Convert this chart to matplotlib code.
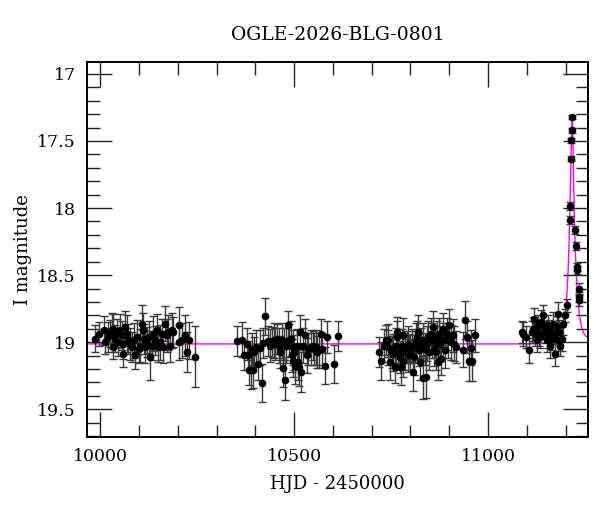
import numpy as np
import matplotlib
matplotlib.use('Agg')
import matplotlib.pyplot as plt
from matplotlib.ticker import MultipleLocator

# season 1
t1 = [9987, 9996, 10009, 10013, 10021, 10026, 10030, 10034, 10034, 10039,
      10043, 10047, 10052, 10056, 10058, 10060, 10064, 10069, 10073, 10077,
      10082, 10086, 10090, 10095, 10099, 10103, 10107, 10110, 10112, 10116,
      10120, 10125, 10129, 10133, 10137, 10142, 10146, 10150, 10155, 10159,
      10163, 10168, 10172, 10176, 10180, 10185, 10189, 10202, 10204, 10211,
      10219, 10223, 10230, 10245]
m1 = [18.975, 18.938, 18.913, 19.000, 18.963, 18.937, 18.913, 18.900, 19.037, 18.975,
      18.937, 19.000, 18.913, 18.950, 19.087, 19.012, 18.888, 18.937, 18.975, 19.012,
      19.037, 18.987, 19.099, 18.963, 19.049, 19.025, 18.863, 18.913, 18.975, 19.037,
      19.000, 18.963, 19.112, 19.025, 18.937, 18.987, 18.913, 19.037, 19.000, 18.937,
      19.037, 18.863, 18.950, 18.925, 19.025, 18.913, 18.925, 19.000, 18.875, 18.987,
      18.950, 19.075, 18.987, 19.107]
e1 = [0.10, 0.09, 0.11, 0.09, 0.11, 0.10, 0.13, 0.11, 0.09, 0.10,
      0.11, 0.10, 0.12, 0.11, 0.10, 0.11, 0.12, 0.14, 0.11, 0.12,
      0.11, 0.13, 0.10, 0.13, 0.11, 0.12, 0.14, 0.13, 0.11, 0.12,
      0.11, 0.12, 0.17, 0.11, 0.13, 0.11, 0.12, 0.11, 0.13, 0.11,
      0.12, 0.13, 0.12, 0.13, 0.12, 0.13, 0.11, 0.13, 0.14, 0.13,
      0.15, 0.15, 0.14, 0.23]

# season 2
t2 = [10354, 10365, 10371, 10378, 10382, 10385, 10388, 10391, 10395, 10397,
      10402, 10406, 10411, 10417, 10419, 10424, 10434, 10438, 10442, 10447,
      10451, 10455, 10460, 10464, 10468, 10471, 10474, 10477, 10479, 10485,
      10488, 10491, 10494, 10497, 10498, 10500, 10503, 10507, 10509, 10514,
      10515, 10518, 10522, 10528, 10533, 10537, 10543, 10548, 10552, 10557,
      10560, 10565, 10570, 10571, 10580, 10584, 10603, 10612]
m2 = [18.993, 18.982, 19.099, 19.012, 19.099, 19.206, 19.211, 19.049, 19.211, 19.075,
      19.037, 19.161, 19.042, 19.306, 19.007, 18.808, 18.993, 19.025, 19.000, 18.987,
      19.012, 18.975, 19.025, 19.075, 18.987, 19.191, 19.012, 19.281, 19.025, 18.875,
      18.987, 18.975, 19.099, 19.037, 19.137, 19.075, 19.174, 19.025, 19.149, 19.187,
      18.925, 19.224, 19.025, 18.950, 19.099, 19.049, 19.037, 19.025, 19.049, 19.037,
      19.075, 19.062, 18.937, 19.049, 19.174, 18.963, 19.161, 18.955]
e2 = [0.11, 0.13, 0.11, 0.12, 0.11, 0.11, 0.14, 0.12, 0.13, 0.11,
      0.13, 0.12, 0.13, 0.14, 0.11, 0.14, 0.11, 0.12, 0.11, 0.13,
      0.12, 0.11, 0.13, 0.12, 0.13, 0.14, 0.12, 0.15, 0.13, 0.11,
      0.12, 0.13, 0.12, 0.13, 0.12, 0.13, 0.14, 0.12, 0.13, 0.14,
      0.13, 0.15, 0.13, 0.12, 0.13, 0.12, 0.13, 0.11, 0.12, 0.13,
      0.12, 0.13, 0.11, 0.12, 0.14, 0.12, 0.14, 0.11]

# season 3
t3 = [10719, 10724, 10732, 10737, 10741, 10743, 10747, 10752, 10754, 10756,
      10759, 10763, 10765, 10766, 10769, 10772, 10775, 10778, 10780, 10782,
      10786, 10790, 10793, 10795, 10797, 10799, 10803, 10806, 10808, 10812,
      10814, 10818, 10820, 10823, 10825, 10827, 10832, 10833, 10838, 10840,
      10842, 10846, 10849, 10852, 10855, 10857, 10861, 10863, 10866, 10869,
      10872, 10875, 10876, 10879, 10883, 10885, 10889, 10894, 10898, 10900,
      10904, 10909, 10913, 10918, 10936, 10942, 10945, 10952, 10955, 10960,
      10966]
m3 = [19.075, 19.142, 19.025, 18.982, 19.037, 18.987, 19.149, 19.075, 19.049, 19.087,
      19.187, 19.025, 18.925, 18.963, 19.075, 19.112, 19.187, 19.025, 18.950, 19.137,
      19.075, 19.037, 19.012, 19.099, 19.049, 19.075, 19.025, 19.224, 19.112, 19.037,
      18.987, 18.963, 18.925, 19.057, 19.149, 19.012, 18.987, 19.266, 19.049, 19.256,
      19.012, 18.963, 19.075, 18.937, 18.987, 18.888, 19.049, 19.000, 19.075, 18.963,
      19.149, 18.937, 19.012, 19.124, 18.987, 18.900, 19.062, 18.937, 18.987, 18.875,
      19.000, 18.950, 19.012, 19.037, 19.057, 18.833, 18.963, 19.142, 19.042, 19.137,
      18.950]
e3 = [0.11, 0.14, 0.12, 0.11, 0.13, 0.12, 0.13, 0.12, 0.11, 0.13,
      0.12, 0.13, 0.11, 0.12, 0.13, 0.12, 0.13, 0.12, 0.13, 0.12,
      0.13, 0.12, 0.13, 0.12, 0.11, 0.13, 0.12, 0.14, 0.13, 0.12,
      0.13, 0.12, 0.13, 0.12, 0.13, 0.12, 0.13, 0.16, 0.12, 0.16,
      0.13, 0.12, 0.13, 0.12, 0.13, 0.12, 0.13, 0.12, 0.13, 0.12,
      0.13, 0.12, 0.13, 0.12, 0.13, 0.12, 0.13, 0.12, 0.13, 0.12,
      0.13, 0.12, 0.13, 0.12, 0.13, 0.14, 0.12, 0.15, 0.13, 0.15,
      0.12]

# season 4, baseline before the event
t4 = [11087, 11091, 11098, 11107, 11113, 11117, 11119, 11121, 11124, 11127,
      11130, 11132, 11134, 11138, 11143, 11145, 11147, 11151, 11154, 11155,
      11158, 11160, 11164, 11167, 11170, 11173, 11177, 11180, 11181, 11184,
      11187, 11190, 11194]
m4 = [18.925, 18.937, 18.963, 19.062, 18.925, 18.900, 18.825, 18.937, 18.913, 18.987,
      18.875, 18.937, 18.963, 18.851, 18.801, 18.888, 18.925, 18.987, 18.875, 18.950,
      18.913, 19.025, 18.975, 18.863, 18.937, 19.087, 18.888, 18.788, 18.987, 18.925,
      19.025, 18.975, 18.863]
e4 = [0.08, 0.09, 0.08, 0.09, 0.08, 0.09, 0.08, 0.09, 0.08, 0.09,
      0.08, 0.09, 0.08, 0.09, 0.08, 0.09, 0.08, 0.09, 0.08, 0.09,
      0.08, 0.09, 0.08, 0.09, 0.08, 0.09, 0.08, 0.09, 0.08, 0.09,
      0.08, 0.09, 0.08]

# the event itself
t5 = [11198, 11203, 11211, 11211, 11213, 11214, 11216, 11217, 11224, 11227,
      11229, 11229, 11235, 11235, 11235]
m5 = [18.801, 18.726, 17.985, 18.087, 17.631, 17.495, 17.420, 17.321, 18.161, 18.286,
      18.440, 18.460, 18.601, 18.664, 18.689]
e5 = [0.05, 0.05, 0.03, 0.03, 0.02, 0.02, 0.02, 0.015, 0.03, 0.03,
      0.03, 0.03, 0.04, 0.04, 0.04]

# model curve
model_t = [9940, 11100, 11130, 11150, 11165, 11175, 11185, 11192, 11197, 11201,
           11204, 11207, 11209, 11211, 11213, 11215, 11216, 11217, 11218, 11219,
           11221, 11223, 11225, 11228, 11231, 11235, 11240, 11246, 11252, 11262]
model_m = [19.013, 19.013, 19.010, 19.000, 18.990, 18.970, 18.940, 18.890, 18.830, 18.740,
           18.620, 18.450, 18.280, 18.050, 17.800, 17.520, 17.400, 17.320, 17.360, 17.480,
           17.800, 18.080, 18.300, 18.500, 18.660, 18.780, 18.870, 18.930, 18.955, 18.970]


def main():
    plt.rcParams['font.family'] = ['DejaVu Serif']

    t = np.concatenate([t1, t2, t3, t4, t5])
    m = np.concatenate([m1, m2, m3, m4, m5])
    e = np.concatenate([e1, e2, e3, e4, e5])

    fig = plt.figure(figsize=(6, 5.12), dpi=100)
    ax = fig.add_axes([0.145, 0.147, 0.835, 0.731])

    ax.plot(model_t, model_m, color='#ff00ff', linewidth=1.0, zorder=1)
    ax.errorbar(t, m, yerr=e, fmt='o', color='black', markersize=4.5,
                ecolor='#3a3a3a', elinewidth=1.0, capsize=3, capthick=1.0, zorder=2)

    ax.set_xlim(9966, 11258)
    ax.set_ylim(19.705, 16.915)

    ax.xaxis.set_major_locator(MultipleLocator(500))
    ax.xaxis.set_minor_locator(MultipleLocator(100))
    ax.yaxis.set_major_locator(MultipleLocator(0.5))
    ax.yaxis.set_minor_locator(MultipleLocator(0.1))
    ax.yaxis.set_major_formatter(plt.FuncFormatter(lambda v, p: '%g' % v))

    ax.tick_params(which='both', direction='in', top=True, right=True,
                   labelsize=12.5, color='#222222')
    ax.tick_params(which='major', length=18, width=1.0, pad=8)
    ax.tick_params(which='minor', length=9, width=1.0)
    for s in ax.spines.values():
        s.set_linewidth(1.4)

    ax.set_xlabel('HJD - 2450000', fontsize=13, labelpad=7)
    ax.set_ylabel('I magnitude', fontsize=13, labelpad=4)
    ax.set_title('OGLE-2026-BLG-0801', fontsize=13.5, pad=16)

    fig.savefig('out.png', dpi=100)


if __name__ == '__main__':
    main()
